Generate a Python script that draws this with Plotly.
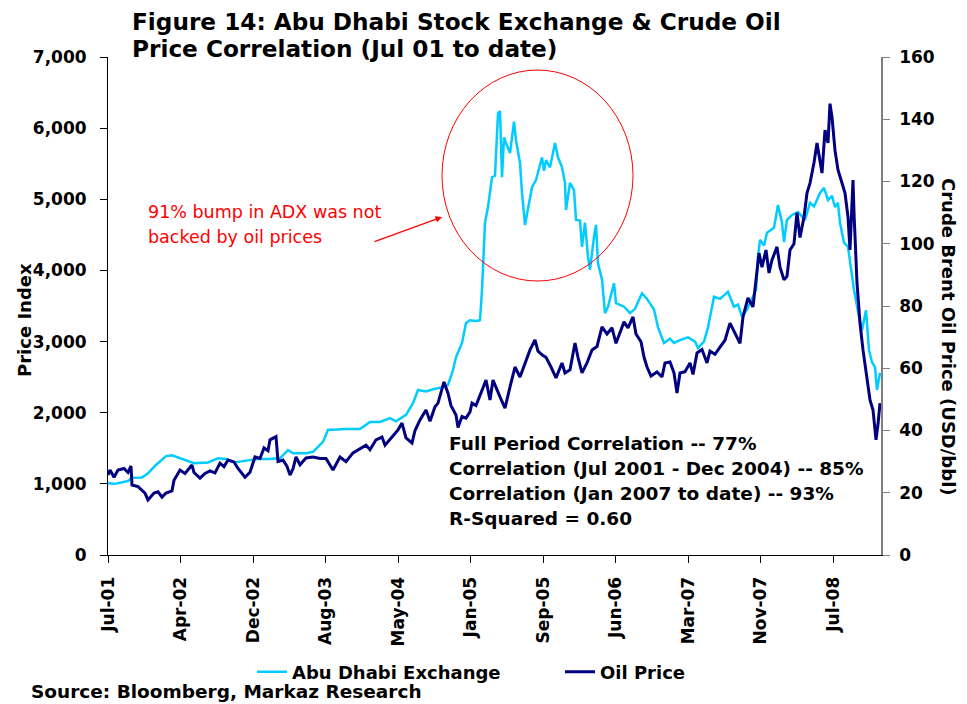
import plotly.graph_objects as go

# x positions: trading-period index from Jul-2001 (axis category units)
tick_positions = [0, 36.25, 72.5, 108.75, 145, 181.25, 217.5, 253.75, 290, 326.25, 362.5]
tick_labels = ["Jul-01", "Apr-02", "Dec-02", "Aug-03", "May-04", "Jan-05",
               "Sep-05", "Jun-06", "Mar-07", "Nov-07", "Jul-08"]

adx_x = [0, 3.5, 10, 12, 17, 20, 24, 29, 32, 36, 43, 50, 55, 59, 63, 70, 75, 80, 84, 86,
         90, 92.5, 99, 102.5, 107.5, 110, 112.5, 119, 126, 131, 136, 141, 144, 149, 152.5,
         155, 159, 162.5, 167.5, 170, 172.5, 174, 177, 179, 181, 184, 186, 187, 188.5, 190,
         192, 193.5, 195, 196, 197, 198, 199, 201, 203, 204, 206, 207, 208.5, 210, 212, 214,
         217, 218, 219, 221, 223.5, 225, 227, 228.5, 229, 231, 233, 234, 236, 237, 238.5,
         240, 241, 243, 244, 245, 247, 248.5, 250, 253, 254, 258, 261, 263.5, 267, 269.5,
         273, 275, 278, 281, 283, 286, 290, 293.5, 295, 298, 300, 303, 306, 310, 313, 315,
         317, 319.5, 324, 325, 326, 328, 329.5, 333, 335, 337, 338, 339.5, 342, 345, 348.5,
         351, 353, 356, 358, 360, 362, 363.5, 365, 366, 368, 370, 372, 373, 375.5, 377, 379,
         380.5, 382, 383.5, 384.5, 386]
adx_values = [1010, 1000, 1040, 1085, 1090, 1150, 1265, 1390, 1400, 1360, 1290, 1300, 1360,
              1350, 1300, 1330, 1350, 1350, 1355, 1360, 1475, 1430, 1430, 1450, 1590, 1760,
              1760, 1770, 1770, 1870, 1870, 1925, 1880, 1970, 2135, 2320, 2300, 2330, 2360,
              2390, 2600, 2780, 2980, 3260, 3300, 3290, 3300, 3725, 4670, 4890, 5310, 5330,
              6210, 6240, 5310, 5870, 5790, 5650, 6090, 5830, 5510, 5090, 4640, 4890, 5170,
              5270, 5590, 5400, 5550, 5450, 5790, 5590, 5450, 5230, 4850, 5230, 5130, 4710,
              4700, 4330, 4670, 4190, 4010, 4470, 4640, 4100, 3870, 3400, 3490, 3820, 3540,
              3490, 3400, 3460, 3680, 3600, 3450, 3200, 2980, 3040, 2980, 3020, 3060, 3000,
              2910, 3000, 3200, 3630, 3600, 3700, 3490, 3520, 3350, 3450, 3725, 4190, 4430,
              4350, 4530, 4600, 4920, 4670, 4400, 4710, 4780, 4820, 4710, 4950, 4900, 5090,
              5160, 4990, 5050, 4890, 4950, 4670, 4390, 4330, 3910, 3725, 3350, 3160, 3440,
              2880, 2710, 2640, 2320, 2560]

oil_x = [0, 1, 3, 5, 8, 10, 11.5, 12, 15, 18.5, 20, 23, 25, 27, 29, 32, 33, 36, 38.5, 42,
         43, 46, 48.5, 51, 53.5, 56, 58, 60, 63, 65, 68.5, 71, 73.5, 76, 78, 80, 81, 84, 85,
         87.5, 89.5, 91, 92.5, 94, 96, 99, 102.5, 106, 109, 112.5, 116, 119, 122.5, 126, 129,
         131, 134, 137, 138.5, 142, 145, 147, 149, 152, 153.5, 156, 159, 161, 163.5, 165,
         168, 170, 171.5, 174, 175, 177, 179, 181, 182, 184, 186, 189, 191, 192.5, 196,
         198.5, 201, 203.5, 206, 208.5, 211, 213.5, 215, 217, 219, 221.5, 224, 227, 228.5,
         231, 233.5, 235, 237, 239.5, 242, 244.5, 247, 249.5, 252, 254, 256.5, 258, 260,
         262.5, 264, 266.5, 268, 269.5, 271.5, 274.5, 277, 278.5, 281, 283, 284.5, 286,
         288.5, 291, 292.5, 294.5, 297, 299.5, 301, 303.5, 306, 308.5, 311, 313.5, 316,
         317.5, 320, 322.5, 324, 325.5, 327, 329, 330.5, 332, 334.5, 336, 338, 339.5, 341,
         343, 344.5, 346, 348, 349.5, 351, 353, 354.5, 356, 357, 358.5, 360, 361, 362,
         363.5, 365, 367, 368.5, 370, 371, 372.5, 373, 374.5, 376, 377.5, 379, 381, 382.5,
         384, 385, 386]
oil_values = [25.7, 27.3, 25, 27.3, 27.8, 26.5, 28.6, 22.5, 22, 19.9, 17.7, 19.9, 20.3, 18.6,
              19.9, 20.6, 24, 27.3, 26.2, 28.9, 26.5, 24.7, 26.2, 27, 26.4, 29.5, 28.4, 30.5,
              29.9, 27.8, 25, 26.6, 31.5, 31, 34.4, 33.5, 37, 38, 30, 30.5, 28.5, 25.7, 27.7,
              31.5, 29, 31.2, 31.5, 31, 31, 27.3, 31.5, 30, 32.8, 34.3, 35.3, 33.8, 37, 37.9,
              35.3, 37.9, 40.2, 42.4, 37.6, 36, 40, 43.4, 46.6, 43, 47.6, 48.8, 55.6, 52, 48,
              45, 41, 44.5, 44, 46, 48.8, 48, 51.5, 56.2, 49.8, 56.2, 50.8, 47.2, 54, 60.4,
              57.2, 61.7, 65.9, 69.1, 65.5, 64.3, 63.5, 60.4, 56.9, 61.7, 58.5, 59.5, 68.1,
              63.5, 58.5, 61.7, 65.9, 67, 73.3, 71, 73, 68, 72.3, 74.9, 73, 76.5, 71, 68.5,
              63.6, 60.4, 57.5, 58.8, 57.2, 61.7, 62, 58.5, 52, 58.5, 58.9, 61.7, 58, 64.9, 66,
              61.7, 65.5, 64.5, 66.8, 69, 74.5, 71.5, 68, 76.5, 82.6, 79.7, 89.3, 97, 92.5, 98,
              90.6, 94.8, 99, 92.5, 88.4, 89.5, 98, 100, 110, 102, 108.6, 116.3, 119.5, 126,
              132.4, 127, 122.7, 136.5, 132.4, 145, 140.7, 130, 123.7, 119.5, 116.3, 108.6, 98,
              120.5, 110, 87.4, 74.5, 65.9, 59.4, 49.8, 46.6, 37, 42, 48.8]

correlation_lines = ["Full Period Correlation -- 77%",
                     "Correlation (Jul 2001 - Dec 2004) -- 85%",
                     "Correlation (Jan 2007 to date) -- 93%",
                     "R-Squared = 0.60"]

FONT = "DejaVu Sans"
# page body adds an 8px offset; the figure is sized so the visible window is 967x704
W, H = 959, 696
L, R, T, B = 100, 86, 49, 149
PW, PH = W - L - R, H - T - B
OFF = 8  # screen offset of the figure


def px(xp):
    return (xp - OFF - L) / PW


def py(yp):
    return (H - B - (yp - OFF)) / PH


fig = go.Figure()
fig.add_trace(go.Scatter(x=adx_x, y=adx_values, name="Abu Dhabi Exchange", mode="lines",
                         line=dict(color="#00CCFF", width=2.5), legend="legend"))
fig.add_trace(go.Scatter(x=oil_x, y=oil_values, name="Oil Price", mode="lines", yaxis="y2",
                         line=dict(color="#000080", width=3), legend="legend2"))

bold = dict(family=FONT, color="black", weight="bold")

annotations = [
    dict(text="Figure 14: Abu Dhabi Stock Exchange & Crude Oil", x=px(130), y=py(21.5),
         font=dict(size=23.2, **bold)),
    dict(text="Price Correlation (Jul 01 to date)", x=px(130), y=py(48.5),
         font=dict(size=23.2, **bold)),
    dict(text="91% bump in ADX was not", x=px(146), y=py(212),
         font=dict(size=17.5, family=FONT, color="#FF0000")),
    dict(text="backed by oil prices", x=px(146), y=py(237),
         font=dict(size=17.5, family=FONT, color="#FF0000")),
    dict(text="Source: Bloomberg, Markaz Research", x=px(29), y=py(692),
         font=dict(size=18.5, **bold)),
    dict(text="Price Index", x=px(24), y=py(320), textangle=-90, xanchor="center",
         font=dict(size=18, **bold)),
    dict(text="Crude Brent Oil Price (USD/bbl)", x=px(949), y=py(337), textangle=90,
         xanchor="center", font=dict(size=18, **bold)),
]
for i, line in enumerate(correlation_lines):
    annotations.append(dict(text=line, x=px(447), y=py(443 + 25.2 * i),
                            font=dict(size=18.5, **bold)))
for a in annotations:
    a.setdefault("xanchor", "left")
    a.update(xref="paper", yref="paper", yanchor="middle", showarrow=False)

# arrow pointing at the circled bump
annotations.append(dict(x=167, y=4750, xref="x", yref="y", ax=-69, ay=25, text="",
                        showarrow=True, arrowhead=2, arrowsize=1, arrowwidth=1.3,
                        arrowcolor="#FF0000"))

fig.update_layout(
    width=W, height=H,
    margin=dict(l=L, r=R, t=T, b=B),
    paper_bgcolor="white", plot_bgcolor="white",
    showlegend=True,
    legend=dict(x=px(252), y=py(672), xanchor="left", yanchor="middle", orientation="h",
                font=dict(size=18, **bold), itemwidth=30, bgcolor="rgba(0,0,0,0)"),
    legend2=dict(x=px(560), y=py(672), xanchor="left", yanchor="middle", orientation="h",
                 font=dict(size=18, **bold), itemwidth=30, bgcolor="rgba(0,0,0,0)"),
    xaxis=dict(range=[0, 386.5], tickmode="array", tickvals=tick_positions,
               ticktext=tick_labels, tickangle=-90, ticks="outside", ticklen=7,
               tickcolor="black", showline=True, linecolor="black", linewidth=1,
               showgrid=False, zeroline=False, tickfont=dict(size=17, **bold),
               ticklabelstandoff=7),
    yaxis=dict(range=[0, 7000], dtick=1000, tickformat=",", ticks="outside", ticklen=7,
               tickcolor="black", showline=True, linecolor="black", linewidth=1,
               showgrid=False, zeroline=False, tickfont=dict(size=17, **bold),
               ticklabelstandoff=10),
    yaxis2=dict(range=[0, 160], dtick=20, overlaying="y", side="right", ticks="outside",
                ticklen=7, tickcolor="#808080", showline=True, linecolor="#808080",
                linewidth=1.5, showgrid=False, zeroline=False,
                tickfont=dict(size=17, **bold), ticklabelstandoff=6),
    annotations=annotations,
    shapes=[dict(type="circle", xref="x", yref="y", x0=167, x1=262.5, y0=3851, y1=6817,
                 line=dict(color="#FF0000", width=1))],
)

fig.write_html("out.html")
